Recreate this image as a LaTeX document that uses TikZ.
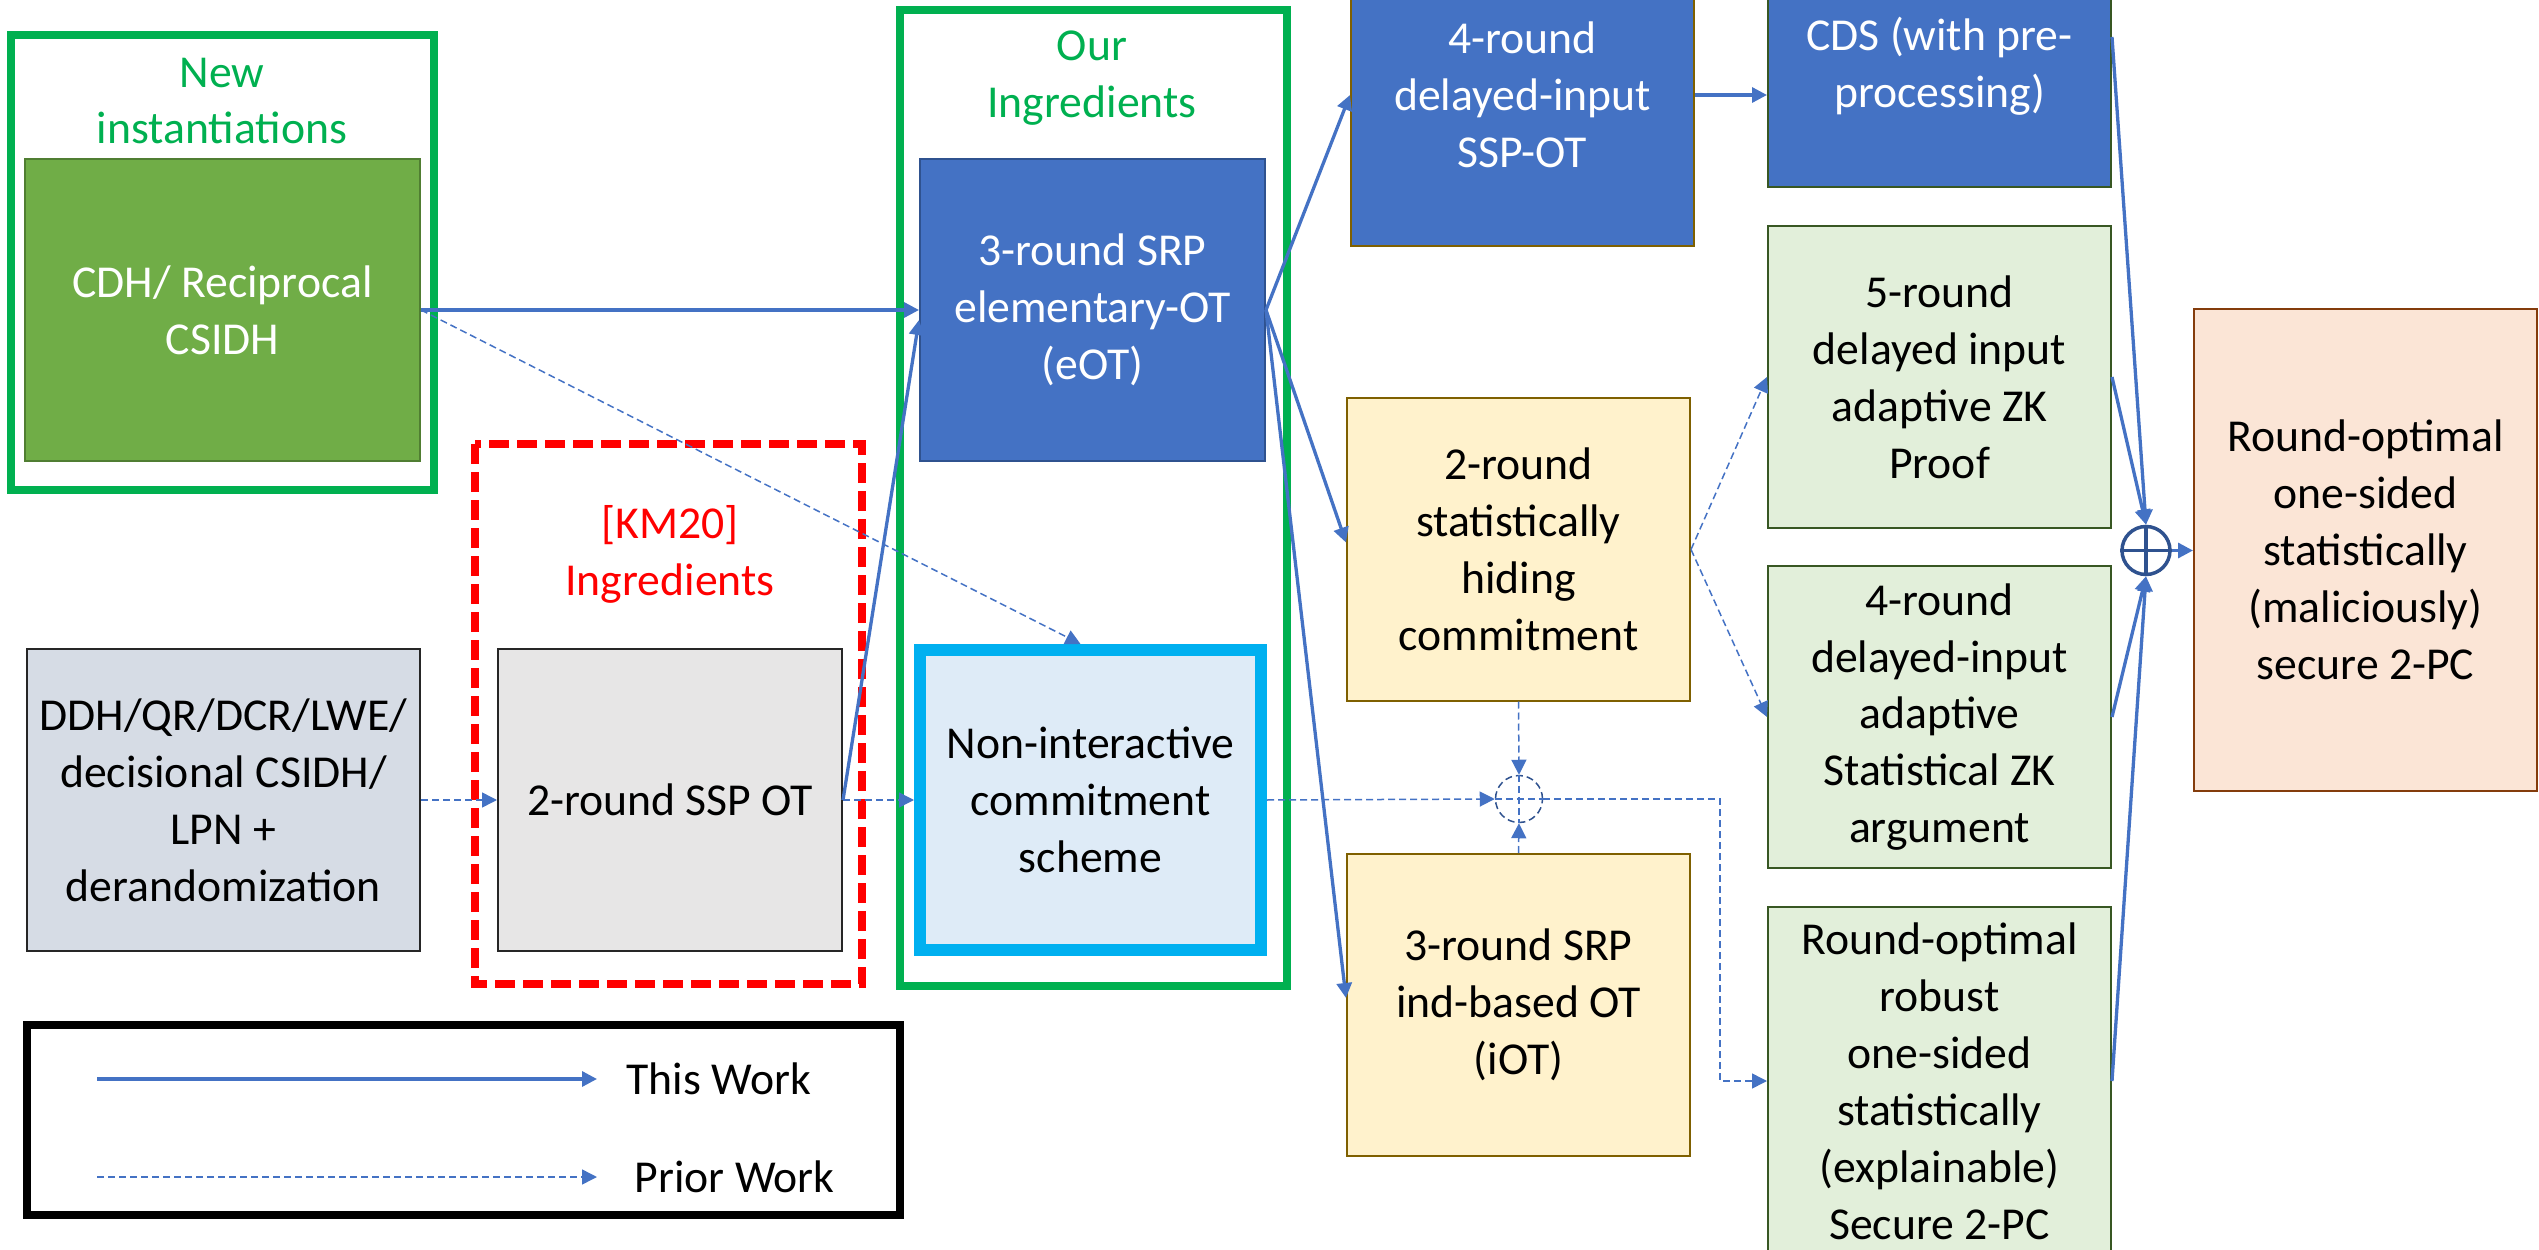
\documentclass[tikz,border=0pt]{standalone}
\usepackage{fontspec}
\setmainfont{Carlito}
\usetikzlibrary{arrows.meta}

\definecolor{ablue}{HTML}{4472C4}
\definecolor{dblue}{HTML}{2F528F}
\definecolor{grpgreen}{HTML}{00B050}
\definecolor{leafgreen}{HTML}{70AD47}
\definecolor{leafdark}{HTML}{507E32}
\definecolor{slate}{HTML}{D6DCE5}
\definecolor{lgray}{HTML}{E7E6E6}
\definecolor{paleblue}{HTML}{DEEBF7}
\definecolor{cyanb}{HTML}{00B0F0}
\definecolor{cream}{HTML}{FFF2CC}
\definecolor{brownb}{HTML}{7F6000}
\definecolor{mint}{HTML}{E2EFDA}
\definecolor{forest}{HTML}{385723}
\definecolor{peach}{HTML}{FBE5D6}
\definecolor{rust}{HTML}{843C0C}

\begin{document}
\begin{tikzpicture}[every node/.style={font=\fontsize{13}{16.2}\selectfont,align=center},
  box/.style={draw,line width=0.02cm,minimum width=3.43cm,minimum height=3.02cm,inner sep=0pt},
  bluebox/.style={box,fill=ablue,draw=dblue,text=white},
  creambox/.style={box,fill=cream,draw=brownb},
  mintbox/.style={box,fill=mint,draw=forest},
  grouplabel/.style={text=grpgreen},
  frame/.style={draw=grpgreen,line width=0.08cm},
  thiswork/.style={draw=ablue,line width=0.033cm,-{Triangle[length=0.15cm,width=0.15cm]}},
  priorwork/.style={draw=ablue,line width=0.015cm,dash pattern=on 0.07cm off 0.04cm,-{Triangle[length=0.15cm,width=0.15cm]}}]
  \useasboundingbox (0,0) rectangle (25.39,-12.50);
  \clip (0,0) rectangle (25.39,-12.50);

  % group frames
  \draw[frame] (0.11,-0.35) rectangle (4.34,-4.90);
  \draw[frame] (9.00,-0.10) rectangle (12.87,-9.86);
  \draw[red,line width=0.08cm,dash pattern=on 0.2cm off 0.08cm] (4.75,-4.44) rectangle (8.62,-9.84);
  \node[grouplabel] (newlbl) at (2.22,-1.01) {New\\instantiations};
  \node[grouplabel] (ourlbl) at (10.92,-0.78) {Our\\Ingredients};
  \node[text=red] (kmlbl) at (6.70,-5.54) {[KM20]\\Ingredients};

  % boxes
  \node[box,fill=leafgreen,draw=leafdark,text=white,minimum width=3.95cm] (inst) at (2.225,-3.10) {CDH/ Reciprocal\\CSIDH};
  \node[box,fill=slate,draw=black!85,minimum width=3.93cm] (ddh) at (2.235,-8.00) {DDH/QR/DCR/LWE/\\decisional CSIDH/\\LPN +\\derandomization};
  \node[box,fill=lgray,draw=black!85,minimum width=3.44cm] (ssp) at (6.70,-8.00) {2-round SSP OT};
  \node[bluebox,minimum width=3.45cm] (eot) at (10.925,-3.10) {3-round SRP\\elementary-OT\\(eOT)};
  \node[box,fill=paleblue,draw=cyanb,line width=0.12cm,minimum width=3.41cm,minimum height=3.00cm] (nicom) at (10.905,-8.00) {Non-interactive\\commitment\\scheme};
  \node[bluebox,draw=brownb] (dssp) at (15.225,-0.95) {4-round\\delayed-input\\SSP-OT};
  \node[bluebox,draw=forest,minimum height=2.42cm] (cds) at (19.395,-0.66) {CDS (with pre-\\processing)};
  \node[creambox] (hiding) at (15.185,-5.495) {2-round\\statistically\\hiding\\commitment};
  \node[creambox] (iot) at (15.185,-10.05) {3-round SRP\\ind-based OT\\(iOT)};
  \node[mintbox] (zkp) at (19.395,-3.77) {5-round\\delayed input\\adaptive ZK\\Proof};
  \node[mintbox] (szk) at (19.395,-7.17) {4-round\\delayed-input\\adaptive\\Statistical ZK\\argument};
  \node[mintbox,minimum height=3.48cm] (robust) at (19.395,-10.81) {Round-optimal\\robust\\one-sided\\statistically\\(explainable)\\Secure 2-PC};
  \node[box,fill=peach,draw=rust,minimum height=4.82cm] (result) at (23.655,-5.50) {Round-optimal\\one-sided\\statistically\\(maliciously)\\secure 2-PC};

  % combiners
  \node[circle,draw=dblue,line width=0.035cm,minimum size=0.48cm,inner sep=0pt] (plus) at (21.46,-5.505) {};
  \draw[dblue,line width=0.035cm] (plus.north) -- (plus.south) (plus.west) -- (plus.east);
  \node[circle,draw=dblue,line width=0.015cm,dash pattern=on 0.07cm off 0.04cm,minimum size=0.47cm,inner sep=0pt] (join) at (15.19,-7.99) {};
  \draw[ablue,line width=0.015cm,dash pattern=on 0.07cm off 0.04cm] (join.north) -- (join.south) (join.west) -- (join.east);
  \coordinate (bend) at (17.20,-9.00);

  % this work
  \draw[thiswork] (inst.east) -- (eot.west);
  \draw[thiswork] (ssp.east) -- ([yshift=-1mm]eot.west);
  \draw[thiswork] (eot.east) -- (dssp.west);
  \draw[thiswork] (eot.east) -- ([yshift=0.7mm]hiding.west);
  \draw[thiswork] (eot.east) -- ([yshift=0.7mm]iot.west);
  \draw[thiswork] (dssp.east) -- (dssp.east -| cds.west);
  \draw[thiswork] ([yshift=2.9mm]cds.east) -- (plus.north);
  \draw[thiswork] (zkp.east) -- (plus.north);
  \draw[thiswork] (szk.east) -- (plus.south);
  \draw[thiswork] (robust.east) -- (plus.south);
  \draw[thiswork] (plus.east) -- (plus.east -| result.west);

  % prior work
  \draw[priorwork] (inst.east) -- ([xshift=-1mm]nicom.north);
  \draw[priorwork] (ddh.east) -- (ssp.west);
  \draw[priorwork] (ssp.east) -- (nicom.west);
  \draw[priorwork] (nicom.east) -- (join.west);
  \draw[priorwork] (hiding.south) -- (join.north);
  \draw[priorwork] (iot.north) -- (join.south);
  \draw[priorwork] (join.east) -| (bend) |- (robust.west);
  \draw[priorwork] (hiding.east) -- (zkp.west);
  \draw[priorwork] (hiding.east) -- (szk.west);

  % legend
  \node[draw=black,line width=0.08cm,minimum width=8.73cm,minimum height=1.90cm] (legend) at (4.635,-11.20) {};
  \coordinate (tw0) at (0.97,-10.79);
  \coordinate (tw1) at (5.97,-10.79);
  \coordinate (pw0) at (0.97,-11.77);
  \coordinate (pw1) at (5.97,-11.77);
  \node[anchor=west,inner sep=0pt] (twlbl) at (6.26,-10.79) {This Work};
  \node[anchor=west,inner sep=0pt] (pwlbl) at (6.34,-11.77) {Prior Work};
  \draw[thiswork] (tw0) -- (tw1);
  \draw[priorwork] (pw0) -- (pw1);
\end{tikzpicture}
\end{document}
